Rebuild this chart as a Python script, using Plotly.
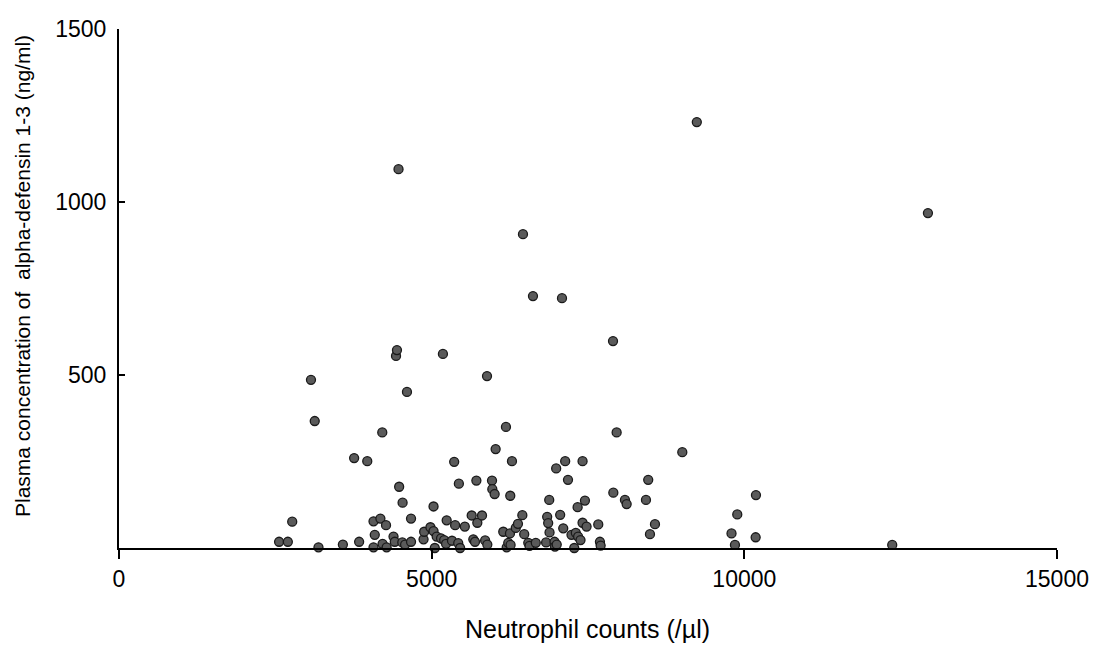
import plotly.graph_objects as go

neutrophil_counts = [
    2560, 2700, 2770, 3070, 3130, 3190, 3580, 3760, 3840, 3970,
    4070, 4070, 4090, 4180, 4210, 4215, 4270, 4280, 4390, 4410,
    4430, 4445, 4470, 4480, 4530, 4535, 4575, 4605, 4670, 4670,
    4870, 4880, 4980, 5030, 5030, 5050, 5080, 5150, 5180, 5200,
    5230, 5240, 5325, 5360, 5375, 5425, 5435, 5455, 5530, 5640,
    5666, 5693, 5715, 5730, 5805, 5855, 5885, 5890, 5965, 5970,
    6007, 6023, 6145, 6188, 6200, 6225, 6252, 6257, 6262, 6284,
    6345, 6380, 6450, 6460, 6480, 6545, 6565, 6620, 6665, 6830,
    6847, 6863, 6880, 6885, 6965, 6972, 6991, 7000, 7055, 7084,
    7104, 7135, 7180, 7236, 7280, 7305, 7334, 7342, 7380, 7413,
    7413, 7451, 7477, 7664, 7691, 7702, 7900, 7905, 7958, 8091,
    8118, 8427, 8463, 8491, 8571, 9008, 9240, 9795, 9850, 9887,
    10181, 10186, 12365, 12936,
]
alpha_defensin = [
    18, 18, 76, 486, 367, 2, 10, 260, 18, 251,
    2, 77, 38, 85, 334, 12, 66, 2, 33, 18,
    555, 572, 1095, 177, 16, 131, 10, 451, 85, 18,
    25, 47, 60, 49, 120, 0, 33, 28, 561, 23,
    12, 80, 21, 249, 66, 14, 186, 0, 62, 94,
    25, 18, 195, 73, 94, 22, 497, 10, 195, 170,
    156, 286, 47, 350, 2, 15, 42, 151, 9, 251,
    58, 70, 95, 907, 40, 15, 6, 728, 15, 16,
    90, 72, 139, 45, 18, 4, 230, 10, 96, 722,
    57, 251, 197, 38, 0, 44, 118, 33, 23, 251,
    73, 137, 62, 68, 18, 7, 598, 160, 334, 139,
    127, 139, 197, 40, 69, 277, 1231, 42, 9, 97,
    31, 153, 9, 968,
]

x_ticks = [0, 5000, 10000, 15000]
y_ticks = [500, 1000, 1500]

x_title = "Neutrophil counts (/µl)"
y_title = "Plasma concentration of  alpha-defensin 1-3 (ng/ml)"

fig = go.Figure()
fig.add_trace(go.Scatter(
    x=neutrophil_counts, y=alpha_defensin, mode="markers",
    marker=dict(size=9, color="#5a5a5a", line=dict(color="#1a1a1a", width=1.3)),
    cliponaxis=False, showlegend=False,
))

font = "Liberation Sans, Arial, sans-serif"
fig.update_layout(
    width=1098, height=645,
    margin=dict(l=119, r=41, t=29, b=97),
    plot_bgcolor="white", paper_bgcolor="white",
    font=dict(family=font, color="black", size=23),
    xaxis=dict(
        range=[0, 15000], tickvals=x_ticks, ticktext=[str(v) for v in x_ticks],
        showgrid=False, zeroline=False, showline=True, linecolor="black", linewidth=2,
        ticks="outside", ticklen=9, tickwidth=1.5, tickcolor="black",
        tickfont=dict(size=23), ticklabelstandoff=0, automargin=False,
    ),
    yaxis=dict(
        range=[0, 1500], tickvals=y_ticks, ticktext=[str(v) for v in y_ticks],
        showgrid=False, zeroline=False, showline=True, linecolor="black", linewidth=2,
        ticks="inside", ticklen=6, tickwidth=1.5, tickcolor="black",
        tickfont=dict(size=23), ticklabelstandoff=6, automargin=False,
    ),
    annotations=[
        dict(text=x_title, xref="paper", yref="paper", x=(587 - 119) / 938,
             y=(548 - 629) / 519,
             xanchor="center", yanchor="middle", showarrow=False, font=dict(size=25)),
        dict(text=y_title, xref="paper", yref="paper", x=(22 - 119) / 938,
             y=(548 - 276) / 519,
             xanchor="center", yanchor="middle", textangle=-90, showarrow=False,
             font=dict(size=21)),
    ],
)

fig.write_html("out.html")
